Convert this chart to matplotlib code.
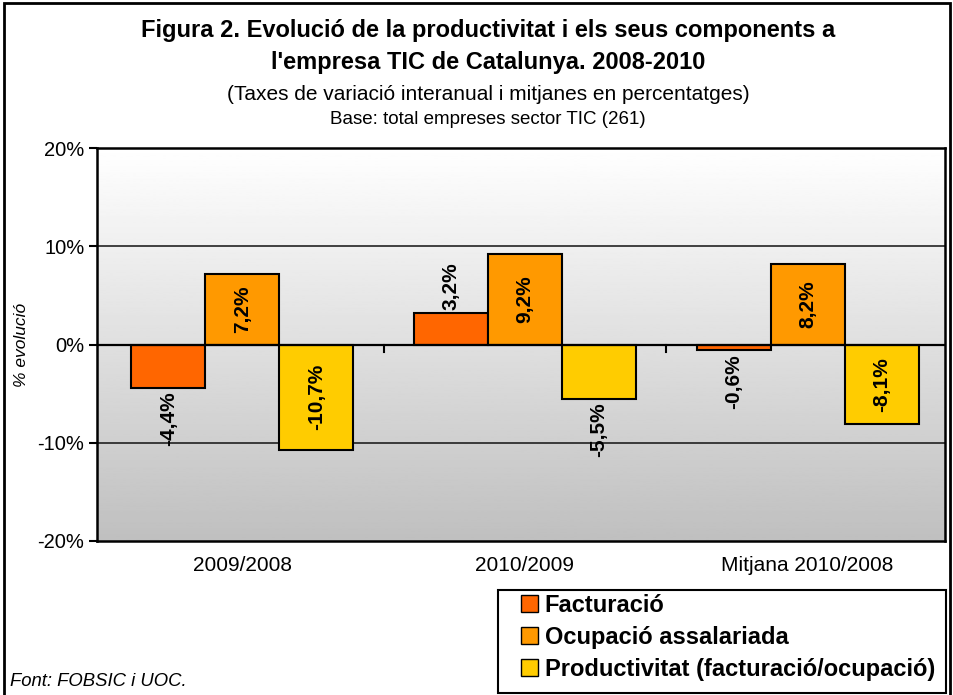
import numpy as np
import matplotlib.pyplot as plt
from matplotlib.patches import Rectangle

plt.rcParams['font.family'] = ['Liberation Sans', 'DejaVu Sans']

categories = ['2009/2008', '2010/2009', 'Mitjana 2010/2008']
series = ['Facturació', 'Ocupació assalariada', 'Productivitat (facturació/ocupació)']
facturacio = [-4.4, 3.2, -0.6]
ocupacio = [7.2, 9.2, 8.2]
productivitat = [-10.7, -5.5, -8.1]
colors = ['#FF6600', '#FF9900', '#FFCC00']

W, H = 954, 695
fig = plt.figure(figsize=(W / 100, H / 100), dpi=100)
ax = fig.add_axes([97 / W, 1 - 541 / H, 848 / W, 393 / H])

# fondo degradado blanco -> gris
grad = np.linspace(1.0, 0.75, 256).reshape(-1, 1)
ax.imshow(grad, cmap='gray', vmin=0, vmax=1, aspect='auto',
          extent=[-0.5, 2.5, -20, 20], zorder=0, origin='upper')

for y in [-10, 10]:
    ax.axhline(y, color='#111111', lw=1.1, zorder=1)

off = 0.014
x = np.arange(len(categories)) + off
width = 0.262
all_vals = [facturacio, ocupacio, productivitat]
for i, (vals, name, c) in enumerate(zip(all_vals, series, colors)):
    pos = x + (i - 1) * width
    ax.bar(pos, vals, width, color=c, edgecolor='black', linewidth=1.5, label=name, zorder=3)
    for px, v in zip(pos, vals):
        txt = f'{v:.1f}%'.replace('.', ',')
        if abs(v) > 6:
            ax.text(px, v / 2, txt, rotation=90, ha='center', va='center',
                    fontsize=15, fontweight='bold', zorder=4)
        elif v >= 0:
            ax.text(px, v + 0.3, txt, rotation=90, ha='center', va='bottom',
                    fontsize=15, fontweight='bold', zorder=4)
        else:
            ax.text(px, v - 0.4, txt, rotation=90, ha='center', va='top',
                    fontsize=15, fontweight='bold', zorder=4)

ax.axhline(0, color='black', lw=1.6, zorder=5)
# marcas entre categorías sobre el eje 0
for b in x[:-1] + 0.5:
    ax.plot([b, b], [0, -0.8], color='black', lw=1.5, zorder=5)

ax.set_xlim(-0.5, 2.5)
ax.set_ylim(-20, 20)
ax.set_yticks([-20, -10, 0, 10, 20])
ax.set_yticklabels(['-20%', '-10%', '0%', '10%', '20%'], fontsize=14.5)
ax.set_xticks(x)
ax.set_xticklabels(categories, fontsize=15)
ax.tick_params(axis='x', length=0, pad=11)
ax.tick_params(axis='y', length=6, width=1.5, direction='out', pad=3)
for s in ax.spines.values():
    s.set_linewidth(1.8)
    s.set_color('black')
    s.set_zorder(6)

fig.text(22 / W, 1 - 345 / H, '% evolució', rotation=90, ha='center', va='center',
         fontsize=12.5, style='italic')

fig.text(488 / W, 1 - 30 / H, 'Figura 2. Evolució de la productivitat i els seus components a',
         ha='center', va='center', fontsize=17, fontweight='bold')
fig.text(488 / W, 1 - 62 / H, "l'empresa TIC de Catalunya. 2008-2010",
         ha='center', va='center', fontsize=17, fontweight='bold')
fig.text(488 / W, 1 - 95 / H, '(Taxes de variació interanual i mitjanes en percentatges)',
         ha='center', va='center', fontsize=15)
fig.text(488 / W, 1 - 120 / H, 'Base: total empreses sector TIC (261)',
         ha='center', va='center', fontsize=13.5)
fig.text(10 / W, 1 - 682 / H, 'Font: FOBSIC i UOC.', ha='left', va='center',
         fontsize=13.3, style='italic')

leg = fig.legend(loc='upper left', bbox_to_anchor=(521 / W, 1 - 594 / H),
                 prop={'weight': 'bold', 'size': 17}, frameon=False,
                 handlelength=0.7, handleheight=0.7, handletextpad=0.3,
                 labelspacing=0.38, borderpad=0, borderaxespad=0)
for h in leg.legend_handles:
    h.set_linewidth(1.0)

# caja de la leyenda
fig.patches.append(Rectangle((498 / W, 1 - 693 / H), 448 / W, 103 / H,
                             transform=fig.transFigure, fill=False,
                             edgecolor='black', linewidth=1.5))
# marco exterior
fig.patches.append(Rectangle((4 / W, -0.01), 946 / W, 1 - 3 / H + 0.01,
                             transform=fig.transFigure, fill=False,
                             edgecolor='black', linewidth=2))

fig.savefig('out.png', dpi=100)
